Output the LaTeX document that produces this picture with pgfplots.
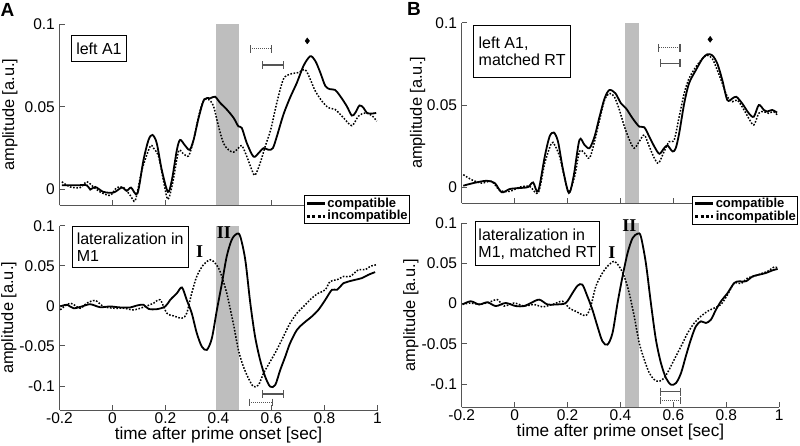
\documentclass[border=0pt]{standalone}
\usepackage{pgfplots}
\pgfplotsset{compat=1.18}
\usepackage{fontspec}
\setmainfont{Liberation Sans}
\newfontfamily\romanfont{Liberation Serif}

\definecolor{shade}{HTML}{BEBEBE}
\definecolor{axgray}{HTML}{555555}

\newcommand{\tickfont}{\fontsize{15.5}{17}\selectfont}
\newcommand{\boxfont}{\fontsize{16}{17}\selectfont}
\newcommand{\numfont}{\romanfont\bfseries\fontsize{18}{18}\selectfont}

\pgfplotsset{
  erp/.style={
    scale only axis, anchor=south west,
    axis lines=left,
    axis line style={-, line width=0.9pt, draw=axgray},
    tick align=inside,
    major tick length=5pt,
    every tick/.style={line width=0.9pt, axgray},
    xmin=-0.2, xmax=1,
    xtick={-0.2,0,0.2,0.4,0.6,0.8,1},
    tick label style={font=\tickfont, inner sep=0pt},
    yticklabel shift=4.5pt,
    xticklabel shift=2.5pt,
    /pgf/number format/assume math mode=true,
    clip mode=individual,
    xlabel={time after prime onset [sec]},
    ylabel={amplitude [a.u.]},
    every axis x label/.style={at={(axis description cs:0.5,0)}, anchor=north,
      yshift=-16.5pt, inner sep=0pt, font=\fontsize{17.2}{18}\selectfont},
  },
  toppanel/.style={erp, ytick={0,0.05,0.1}, yticklabels={0,0.05,0.1},
    xticklabels={}, xlabel={}, ymin=-0.0095, ymax=0.1,
    legend cell align=left,
    legend style={anchor=north west, draw=black, line width=0.9pt, fill=white,
      font=\bfseries\fontsize{13}{13}\selectfont,
      inner xsep=1pt, inner ysep=1.2pt, row sep=0pt,
      nodes={inner sep=1pt}}},
  botpanel/.style={erp, ytick={-0.1,-0.05,0,0.05,0.1},
    yticklabels={-0.1,-0.05,0,0.05,0.1}, ymax=0.1},
  ylab/.style={every axis y label/.style={at={(axis description cs:#1,0.5)},
    rotate=90, anchor=center, inner sep=0pt, font=\fontsize{16.4}{17}\selectfont}},
  comp/.style={black, line width=1.8pt, smooth,
    legend image code/.code={\draw[black, line width=3pt] (0pt,0pt) -- (18pt,0pt);}},
  incomp/.style={black, line width=1.5pt, dash pattern=on 1.6pt off 1.6pt, smooth,
    legend image code/.code={\draw[black, line width=3pt, dash pattern=on 3pt off 2.4pt] (0pt,0pt) -- (18pt,0pt);}},
  ebar/.style={axgray, line width=1.2pt, mark=|, mark size=3.8pt, forget plot},
  ebardot/.style={ebar, dash pattern=on 1pt off 1pt, mark options={solid}},
}

\begin{document}
\begin{tikzpicture}
\path[use as bounding box] (0pt,0pt) rectangle (800pt,-446pt);

% ---------------- A, bottom: lateralization in M1
\begin{axis}[botpanel, ylab=-0.1588, at={(59.5pt,-410pt)}, width=318pt, height=184.3pt, ymin=-0.13]
  \addplot[fill=shade, draw=none, forget plot] coordinates {(0.39,-0.13) (0.478,-0.13) (0.478,0.1) (0.39,0.1)};
  \addplot[comp] coordinates {
    (-0.197,-0.0008) (-0.172,0.0013) (-0.147,-0.003) (-0.116,-0.0008) (-0.084,0.002)
    (-0.047,-0.0017) (-0.009,-0.0008) (0.029,-0.002) (0.067,-0.002) (0.092,0.0004)
    (0.117,0.0013) (0.136,-0.0038) (0.167,-0.0042) (0.199,-0.0008) (0.218,0.0075)
    (0.243,0.0158) (0.262,0.0229) (0.280,0.0075) (0.299,-0.0092) (0.318,-0.034)
    (0.337,-0.0508) (0.356,-0.055) (0.375,-0.0404) (0.394,-0.005) (0.413,0.0283)
    (0.431,0.0617) (0.450,0.0825) (0.469,0.09) (0.482,0.0867) (0.501,0.0575)
    (0.520,0.0033) (0.538,-0.0383) (0.557,-0.0675) (0.576,-0.0883) (0.595,-0.1008)
    (0.614,-0.0988) (0.633,-0.08) (0.652,-0.0633) (0.670,-0.0467) (0.696,-0.03)
    (0.721,-0.0217) (0.752,-0.0133) (0.777,-0.005) (0.803,0.0075) (0.828,0.02)
    (0.847,0.02) (0.872,0.0283) (0.891,0.0304) (0.916,0.0325) (0.941,0.0346)
    (0.966,0.0388) (0.991,0.0421)};
  \addplot[incomp] coordinates {
    (-0.197,-0.005) (-0.160,0.0033) (-0.122,-0.003) (-0.097,0.0033) (-0.065,0.0067)
    (-0.034,-0.0008) (0.004,-0.003) (0.042,-0.003) (0.079,-0.005) (0.117,-0.0017)
    (0.155,0.0033) (0.180,0.0075) (0.205,-0.0092) (0.230,-0.0125) (0.262,-0.0154)
    (0.280,-0.0092) (0.299,0.0158) (0.318,0.0367) (0.343,0.0513) (0.369,0.0575)
    (0.387,0.0533) (0.406,0.0429) (0.431,0.0158) (0.457,-0.0238) (0.475,-0.055)
    (0.494,-0.0758) (0.513,-0.0904) (0.532,-0.1008) (0.551,-0.0988) (0.570,-0.0842)
    (0.595,-0.0696) (0.620,-0.055) (0.645,-0.0383) (0.670,-0.0217) (0.696,-0.0092)
    (0.721,-0.0008) (0.752,0.0096) (0.777,0.0158) (0.803,0.02) (0.821,0.0304)
    (0.847,0.0325) (0.872,0.0367) (0.897,0.0367) (0.928,0.045) (0.954,0.045)
    (0.972,0.0492) (0.997,0.0513)};
  \addplot[ebar] coordinates {(0.565,-0.110) (0.646,-0.110)};
  \addplot[ebardot] coordinates {(0.516,-0.1204) (0.605,-0.1204)};
  \node[font=\numfont] at (axis cs:0.329,0.068) {I};
  \node[font=\numfont] at (axis cs:0.420,0.0919) {II};
\end{axis}

% ---------------- B, bottom: lateralization in M1, matched RT
\begin{axis}[botpanel, ylab=-0.16, at={(461.7pt,-407.3pt)}, width=317.5pt, height=184pt, ymin=-0.129]
  \addplot[fill=shade, draw=none, forget plot] coordinates {(0.419,-0.129) (0.469,-0.129) (0.469,0.1) (0.419,0.1)};
  \addplot[comp] coordinates {
    (-0.197,-0.001) (-0.166,0.003) (-0.134,-0.001) (-0.103,0.0017) (-0.071,-0.003)
    (-0.034,0.0008) (0.004,-0.003) (0.036,-0.003) (0.061,0.0008) (0.093,0.005)
    (0.124,-0.001) (0.156,-0.001) (0.193,0.0008) (0.219,0.0133) (0.238,0.0224)
    (0.256,0.0237) (0.275,0.0091) (0.294,-0.0075) (0.313,-0.0282) (0.332,-0.0469)
    (0.351,-0.051) (0.370,-0.0365) (0.389,0.0008) (0.408,0.034) (0.427,0.0631)
    (0.446,0.0817) (0.465,0.0871) (0.477,0.0838) (0.496,0.0506) (0.515,0.0008)
    (0.534,-0.0448) (0.553,-0.0739) (0.572,-0.0925) (0.591,-0.1008) (0.610,-0.0988)
    (0.629,-0.0863) (0.647,-0.0656) (0.666,-0.0448) (0.685,-0.0282) (0.704,-0.022)
    (0.723,-0.0241) (0.742,-0.0199) (0.761,-0.0075) (0.780,0.0029) (0.805,0.0133)
    (0.830,0.0257) (0.849,0.0278) (0.874,0.0278) (0.900,0.034) (0.925,0.0361)
    (0.950,0.0382) (0.975,0.0415) (0.994,0.0432)};
  \addplot[incomp] coordinates {
    (-0.197,-0.001) (-0.166,0.0008) (-0.134,-0.001) (-0.097,0.0017) (-0.065,0.005)
    (-0.040,-0.003) (-0.002,0.0008) (0.036,-0.003) (0.074,-0.001) (0.105,-0.004)
    (0.143,-0.001) (0.181,0.003) (0.206,-0.0054) (0.231,-0.0095) (0.269,-0.0149)
    (0.288,-0.003) (0.307,0.0216) (0.332,0.0382) (0.351,0.0465) (0.376,0.0527)
    (0.395,0.0465) (0.414,0.034) (0.433,0.0133) (0.452,-0.0158) (0.471,-0.049)
    (0.490,-0.0697) (0.509,-0.0863) (0.528,-0.0946) (0.547,-0.0967) (0.565,-0.0925)
    (0.584,-0.0822) (0.603,-0.0697) (0.629,-0.0531) (0.654,-0.0365) (0.679,-0.0241)
    (0.704,-0.0158) (0.729,-0.0095) (0.755,-0.0054) (0.780,-0.001) (0.805,0.0112)
    (0.830,0.0257) (0.855,0.0249) (0.881,0.032) (0.906,0.034) (0.931,0.0373)
    (0.956,0.0402) (0.981,0.0456) (0.994,0.0444)};
  \addplot[ebar] coordinates {(0.551,-0.1096) (0.628,-0.1096)};
  \addplot[ebardot] coordinates {(0.551,-0.1206) (0.628,-0.1206)};
  \node[font=\numfont] at (axis cs:0.368,0.064) {I};
  \node[font=\numfont] at (axis cs:0.434,0.0975) {II};
\end{axis}

% ---------------- A, top: left A1
\begin{axis}[toppanel, ylab=-0.1557, at={(59.5pt,-205.3pt)}, width=318pt, height=181.3pt,
    legend style={at={(axis description cs:0.7689,0.0568)}}]
  \addplot[fill=shade, draw=none, forget plot] coordinates {(0.39,-0.0095) (0.478,-0.0095) (0.478,0.1) (0.39,0.1)};
  \addplot[comp] coordinates {
    (-0.191,0.0026) (-0.135,0.0026) (-0.097,0.0026) (-0.084,0) (-0.065,0.0016)
    (-0.034,-0.0014) (0.004,-0.0018) (0.035,0.0012) (0.054,-0.0008) (0.070,0.0012)
    (0.094,-0.0024) (0.117,0.0179) (0.136,0.030) (0.151,0.033) (0.167,0.028)
    (0.186,0.0118) (0.209,-0.0014) (0.224,0.0057) (0.243,0.024) (0.255,0.030)
    (0.272,0.027) (0.291,0.024) (0.306,0.030) (0.325,0.0433) (0.346,0.0545)
    (0.369,0.0551) (0.387,0.0561) (0.406,0.0524) (0.431,0.0484) (0.457,0.0433)
    (0.475,0.0382) (0.488,0.0372) (0.507,0.028) (0.532,0.0199) (0.551,0.022)
    (0.570,0.025) (0.589,0.024) (0.605,0.025) (0.620,0.032) (0.645,0.0453)
    (0.670,0.0555) (0.696,0.0646) (0.721,0.0748) (0.746,0.0805) (0.765,0.0778)
    (0.784,0.0707) (0.803,0.0626) (0.821,0.0606) (0.840,0.0602) (0.859,0.0565)
    (0.884,0.0504) (0.903,0.0447) (0.916,0.0463) (0.932,0.0508) (0.947,0.0494)
    (0.960,0.0463) (0.979,0.0459) (0.995,0.0463)};
  \addlegendentry{compatible}
  \addplot[incomp] coordinates {
    (-0.191,0.0047) (-0.160,0.0016) (-0.122,0.0012) (-0.097,0.0047) (-0.072,0.0016)
    (-0.047,-0.0014) (-0.009,-0.0035) (0.016,0.0012) (0.042,0.0012) (0.067,-0.0035)
    (0.086,-0.0065) (0.111,0.0118) (0.142,0.026) (0.155,0.025) (0.174,0.0199)
    (0.192,0.0057) (0.209,-0.0059) (0.228,0.0047) (0.249,0.023) (0.265,0.022)
    (0.287,0.0203) (0.306,0.030) (0.325,0.0443) (0.343,0.0535) (0.362,0.0545)
    (0.381,0.0504) (0.400,0.0382) (0.419,0.028) (0.438,0.024) (0.457,0.0226)
    (0.475,0.025) (0.488,0.0266) (0.507,0.0199) (0.526,0.0118) (0.538,0.0087)
    (0.557,0.0159) (0.576,0.026) (0.597,0.0362) (0.620,0.0524) (0.645,0.0667)
    (0.670,0.0697) (0.702,0.0707) (0.727,0.0724) (0.746,0.0667) (0.765,0.0596)
    (0.790,0.0535) (0.815,0.0494) (0.840,0.0484) (0.872,0.0433) (0.903,0.0386)
    (0.928,0.0443) (0.954,0.0463) (0.979,0.0447) (0.997,0.0413)};
  \addlegendentry{incompatible}
  \addplot[ebardot] coordinates {(0.520,0.0850) (0.600,0.0850)};
  \addplot[ebar] coordinates {(0.567,0.0752) (0.646,0.0752)};
  \addplot[only marks, mark=diamond*, mark size=3pt, black, forget plot] coordinates {(0.735,0.0898)};
\end{axis}

% ---------------- B, top: left A1, matched RT
\begin{axis}[toppanel, ylab=-0.139, at={(461.7pt,-203pt)}, width=317.5pt, height=180.3pt,
    legend style={at={(axis description cs:0.7263,0.0405)}}]
  \addplot[fill=shade, draw=none, forget plot] coordinates {(0.419,-0.0095) (0.469,-0.0095) (0.469,0.1) (0.419,0.1)};
  \addplot[comp] coordinates {
    (-0.194,0.001) (-0.156,0.0026) (-0.106,0.004) (-0.075,0.0026) (-0.049,-0.003)
    (-0.018,-0.001) (0.020,-0.0004) (0.051,0.0002) (0.070,0.003) (0.089,-0.0024)
    (0.114,0.0188) (0.132,0.0308) (0.148,0.0333) (0.164,0.0278) (0.183,0.0107)
    (0.205,-0.0034) (0.223,0.0067) (0.245,0.0288) (0.264,0.0258) (0.283,0.0238)
    (0.302,0.0308) (0.321,0.0429) (0.340,0.054) (0.358,0.0591) (0.381,0.0571)
    (0.402,0.051) (0.421,0.048) (0.446,0.0419) (0.471,0.0369) (0.490,0.0365)
    (0.509,0.0308) (0.528,0.0248) (0.547,0.0204) (0.565,0.0238) (0.578,0.0254)
    (0.597,0.0218) (0.609,0.0238) (0.622,0.0329) (0.641,0.051) (0.659,0.0631)
    (0.685,0.0712) (0.710,0.0782) (0.728,0.0808) (0.747,0.0802) (0.766,0.0752)
    (0.785,0.0651) (0.804,0.053) (0.823,0.054) (0.838,0.055) (0.860,0.051)
    (0.885,0.045) (0.904,0.0429) (0.923,0.05) (0.942,0.047) (0.954,0.046)
    (0.973,0.047) (0.992,0.0454)};
  \addlegendentry{compatible}
  \addplot[incomp] coordinates {
    (-0.194,0.0077) (-0.162,0.0046) (-0.125,0.0026) (-0.087,0.0036) (-0.056,-0.0018)
    (-0.018,-0.0024) (0.020,0.0002) (0.057,0.0006) (0.089,-0.0034) (0.114,0.0147)
    (0.139,0.0268) (0.151,0.0258) (0.170,0.0188) (0.189,0.0056) (0.205,-0.003)
    (0.227,0.0067) (0.245,0.0218) (0.264,0.0208) (0.283,0.0177) (0.302,0.0278)
    (0.321,0.0409) (0.340,0.053) (0.358,0.0571) (0.377,0.055) (0.396,0.047)
    (0.415,0.0369) (0.434,0.0288) (0.452,0.0238) (0.471,0.0278) (0.490,0.0318)
    (0.509,0.0248) (0.528,0.0177) (0.544,0.0147) (0.565,0.0218) (0.584,0.0278)
    (0.603,0.0288) (0.622,0.0429) (0.641,0.0571) (0.659,0.0661) (0.685,0.0732)
    (0.710,0.0782) (0.728,0.0802) (0.747,0.0782) (0.766,0.0712) (0.785,0.0631)
    (0.804,0.055) (0.823,0.052) (0.842,0.053) (0.867,0.047) (0.885,0.0419)
    (0.904,0.0379) (0.923,0.045) (0.942,0.046) (0.960,0.045) (0.979,0.046)
    (0.992,0.044)};
  \addlegendentry{incompatible}
  \addplot[ebardot] coordinates {(0.545,0.0848) (0.625,0.0848)};
  \addplot[ebar] coordinates {(0.551,0.0754) (0.625,0.0754)};
  \addplot[only marks, mark=diamond*, mark size=3pt, black, forget plot] coordinates {(0.739,0.0899)};
\end{axis}

% ---------------- text boxes and panel letters
\tikzset{tbox/.style={draw=black, line width=0.9pt, fill=white, anchor=north west,
  font=\boxfont, align=left, inner xsep=3pt, inner ysep=0pt}}
\node[tbox, minimum width=55pt, minimum height=26pt] at (71pt,-35pt) {left A1};
\node[tbox, minimum width=96.7pt, minimum height=51.7pt] at (473.3pt,-25pt) {left A1,\\matched RT};
\node[tbox, minimum width=116pt, minimum height=41.6pt] at (71.7pt,-225.7pt) {lateralization in\\M1};
\node[tbox, minimum width=122.3pt, minimum height=44pt] at (475pt,-221.3pt) {lateralization in\\M1, matched RT};
\node[font=\bfseries\fontsize{19}{19}\selectfont] at (7.5pt,-9.5pt) {A};
\node[font=\bfseries\fontsize{19}{19}\selectfont] at (414pt,-9pt) {B};
\end{tikzpicture}
\end{document}
